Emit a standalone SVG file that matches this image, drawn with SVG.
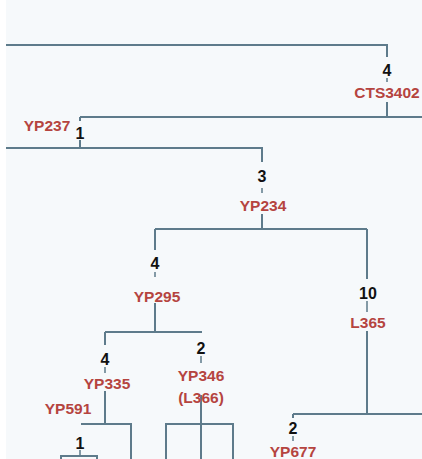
<svg xmlns="http://www.w3.org/2000/svg" width="422" height="459" viewBox="0 0 422 459">
<style>
.bg{fill:#f6f9fb}
.ln{stroke:#5e7b8b;stroke-width:2;fill:none}
.tk{stroke:#5e7b8b;stroke-width:1.5;fill:none}
.hg{font-family:"Liberation Sans",Arial,sans-serif;font-weight:bold;font-size:15.5px;fill:#b5443f;text-anchor:middle}
.n{font-family:"Liberation Sans",Arial,sans-serif;font-weight:bold;font-size:16px;fill:#111;text-anchor:middle}
</style>
<rect width="422" height="459" fill="#ffffff"/>
<rect class="bg" x="6" y="0" width="416" height="459"/>
<g id="connectors">
<path class="ln" d="M6 45H387V57M387 102V117M80 117H422M80 117V121M80 140V148M6 148H262V162M262 214V229M155 229H367M155 229V250M155 303V332M105 332H202M105 332V345M105 391V424M81 424H131V459M61 459V456H97V459M367 229V279M367 331V414M293 414H422M293 414V418M201 395V459M166 459V424H233V459"/>
<path class="tk" d="M387 78V82M262 188V193M155 272V277M367 301V312M105 367V373M201 356V363M80 450V456M293 436V441"/>
</g>
<g id="node-cts3402"><text class="n" x="387" y="76">4</text><text class="hg" x="387" y="98">CTS3402</text></g>
<g id="node-yp237"><text class="hg" x="47" y="131">YP237</text><text class="n" x="80" y="139">1</text></g>
<g id="node-yp234"><text class="n" x="262" y="182">3</text><text class="hg" x="263" y="211">YP234</text></g>
<g id="node-yp295"><text class="n" x="155" y="269">4</text><text class="hg" x="157" y="302">YP295</text></g>
<g id="node-l365"><text class="n" x="368" y="299">10</text><text class="hg" x="368" y="328">L365</text></g>
<g id="node-yp335"><text class="n" x="105" y="365">4</text><text class="hg" x="107" y="389">YP335</text></g>
<g id="node-yp346"><text class="n" x="201" y="354">2</text><text class="hg" x="201" y="381">YP346</text><text class="hg" x="201" y="403">(L366)</text></g>
<g id="node-yp591"><text class="hg" x="68" y="414">YP591</text><text class="n" x="80" y="449">1</text></g>
<g id="node-yp677"><text class="n" x="293" y="434">2</text><text class="hg" x="293" y="457">YP677</text></g>
</svg>
